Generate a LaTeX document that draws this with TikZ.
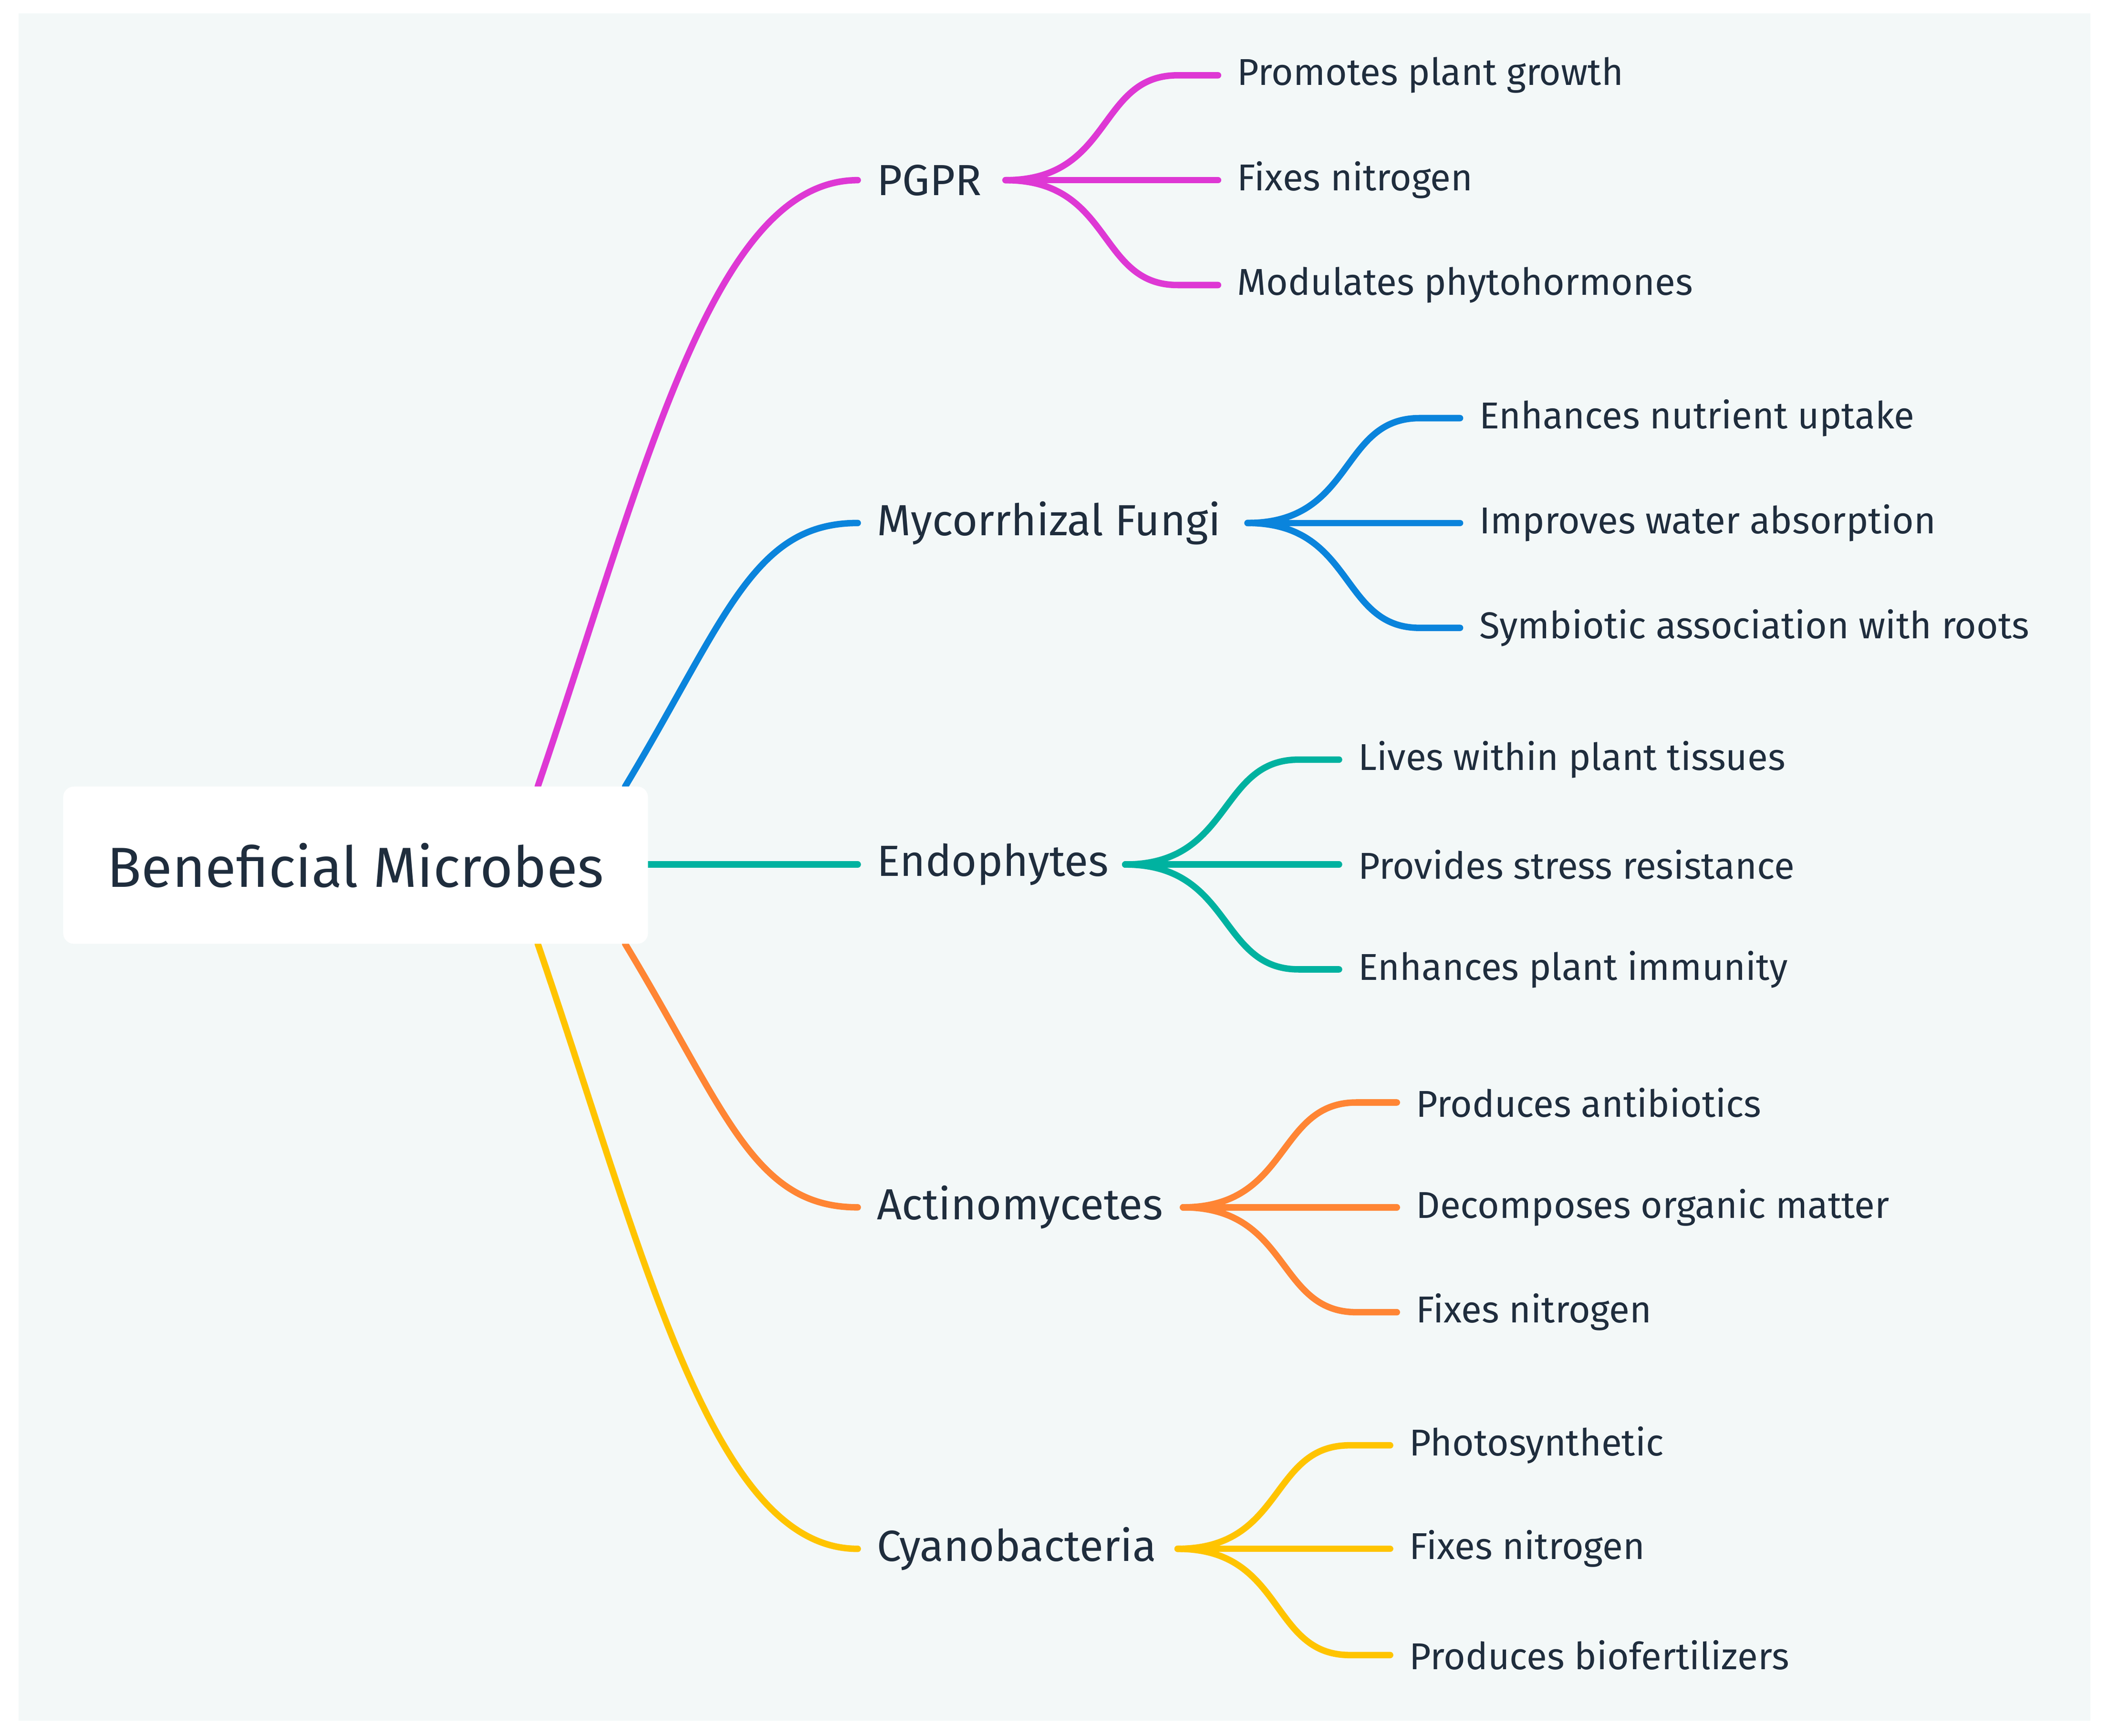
\documentclass[tikz,border=0pt]{standalone}
\usepackage{fontspec}
\setmainfont{Fira Sans}
\begin{document}
\begin{tikzpicture}[x=0.5pt,y=-0.5pt,
  txt/.style={anchor=west,inner sep=0pt,text=ink},
  leaf/.style={txt,font=\fontsize{13.9}{16}\selectfont},
  mid/.style={txt,font=\fontsize{16.2}{19}\selectfont},
  br/.style={line width=2.4pt,line cap=round}]
\definecolor{bg}{HTML}{F3F8F8}
\definecolor{ink}{HTML}{1F2D3D}
\definecolor{cA}{HTML}{DE38D4}
\definecolor{cB}{HTML}{0A84DC}
\definecolor{cC}{HTML}{00B2A0}
\definecolor{cD}{HTML}{FF8534}
\definecolor{cE}{HTML}{FFC400}
\useasboundingbox (0,0) rectangle (1568,1291);
\fill[white] (0,0) rectangle (1568,1291);
\fill[bg] (14,10) rectangle (1555,1280);
% branches from root
\draw[br,cA] (400,585) .. controls (480,350) and (530,134) .. (638,134);
\draw[br,cB] (465,585) .. controls (540,460) and (560,389) .. (638,389);
\draw[br,cC] (482,643) -- (638,643);
\draw[br,cD] (465,702) .. controls (540,826) and (560,898) .. (638,898);
\draw[br,cE] (400,702) .. controls (480,936) and (530,1152) .. (638,1152);
\node[fill=white,rounded corners=4pt,minimum width=217.5pt,minimum height=58.5pt,inner sep=0pt,font=\fontsize{21}{24}\selectfont,text=ink] (root) at (264.5,643.5) {Beneficial Microbes};
% mid nodes
\node[mid] (pgpr) at (652,134) {PGPR};
\node[mid] (myc) at (652,389) {Mycorrhizal Fungi};
\node[mid] (endo) at (652,643) {Endophytes};
\node[mid] (act) at (652,898) {Actinomycetes};
\node[mid] (cya) at (652,1152) {Cyanobacteria};
\coordinate (pgprF) at (748,134);
\coordinate (mycF) at (928,389);
\coordinate (endoF) at (837,643);
\coordinate (actF) at (880,898);
\coordinate (cyaF) at (876,1152);
% leaves
\node[leaf] (a1) at (920,56) {Promotes plant growth};
\node[leaf] (a2) at (920,134) {Fixes nitrogen};
\node[leaf] (a3) at (920,212) {Modulates phytohormones};
\node[leaf] (b1) at (1100,311) {Enhances nutrient uptake};
\node[leaf] (b2) at (1100,389) {Improves water absorption};
\node[leaf] (b3) at (1100,467) {Symbiotic association with roots};
\node[leaf] (c1) at (1010,565) {Lives within plant tissues};
\node[leaf] (c2) at (1010,643) {Provides stress resistance};
\node[leaf] (c3) at (1010,721) {Enhances plant immunity};
\node[leaf] (d1) at (1053,820) {Produces antibiotics};
\node[leaf] (d2) at (1053,898) {Decomposes organic matter};
\node[leaf] (d3) at (1053,976) {Fixes nitrogen};
\node[leaf] (e1) at (1048,1075) {Photosynthetic};
\node[leaf] (e2) at (1048,1152) {Fixes nitrogen};
\node[leaf] (e3) at (1048,1231) {Produces biofertilizers};
\foreach \p/\c/\parent in {a/cA/pgpr,b/cB/myc,c/cC/endo,d/cD/act,e/cE/cya}{
  \foreach \i in {1,2,3}{
    \draw[br,\c] (\parent F) .. controls ([xshift=40pt]\parent F) and ([xshift=-52pt]\p\i.west) .. ([xshift=-22pt]\p\i.west) -- ([xshift=-7pt]\p\i.west);
  }
}
\end{tikzpicture}
\end{document}
